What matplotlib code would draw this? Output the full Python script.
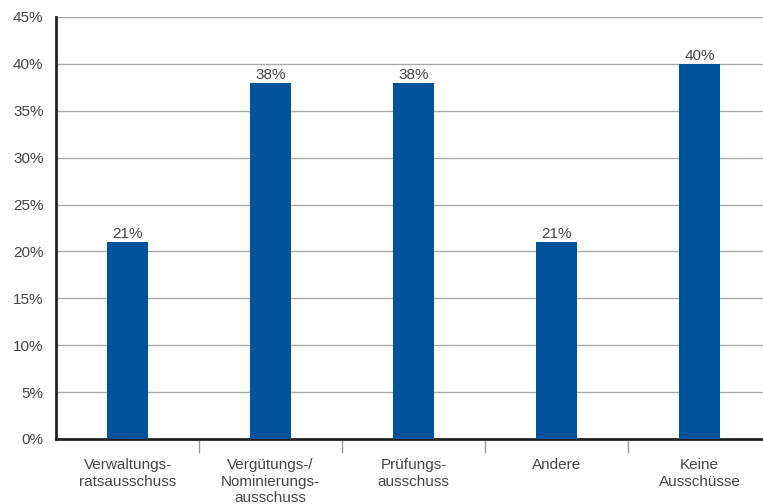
import matplotlib.pyplot as plt
from matplotlib.ticker import FixedLocator

categories = ["Verwaltungs-\nratsausschuss", "Vergütungs-/\nNominierungs-\nausschuss",
              "Prüfungs-\nausschuss", "Andere", "Keine\nAusschüsse"]
values = [21, 38, 38, 21, 40]
yticks = [0, 5, 10, 15, 20, 25, 30, 35, 40, 45]

plt.rcParams['font.family'] = ['Liberation Sans', 'DejaVu Sans']
text_color = '#454545'

fig = plt.figure(figsize=(7.63, 5.04), dpi=100)
ax = fig.add_axes([56 / 763, 65 / 504, 715 / 763, 422 / 504])

x = range(len(categories))
ax.bar(x, values, width=0.29, color='#00529B', zorder=3)
for xi, v in zip(x, values):
    ax.text(xi, v + 0.1, f'{v}%', ha='center', va='bottom', fontsize=11, color=text_color, zorder=4)

ax.set_xlim(-0.5, len(categories) - 0.5)
ax.set_ylim(0, 45)
ax.set_yticks(yticks)
ax.set_yticklabels([f'{t}%' for t in yticks], fontsize=11, color=text_color)
ax.set_xticks(list(x))
ax.set_xticklabels(categories, fontsize=11, color=text_color, linespacing=1.2, va='top')
ax.xaxis.set_minor_locator(FixedLocator([0.5, 1.5, 2.5, 3.5]))
ax.tick_params(axis='x', which='major', length=0, pad=14)
ax.tick_params(axis='x', which='minor', length=10, width=1, color='#999999')
ax.tick_params(axis='y', length=0, pad=9)

ax.grid(True, axis='y', color='#aaaaaa', linewidth=1, zorder=0)
for side in ['top', 'right']:
    ax.spines[side].set_visible(False)
ax.spines['left'].set_linewidth(2)
ax.spines['bottom'].set_linewidth(2)
ax.spines['left'].set_color('#222222')
ax.spines['bottom'].set_color('#222222')

plt.savefig('out.png', dpi=100)
